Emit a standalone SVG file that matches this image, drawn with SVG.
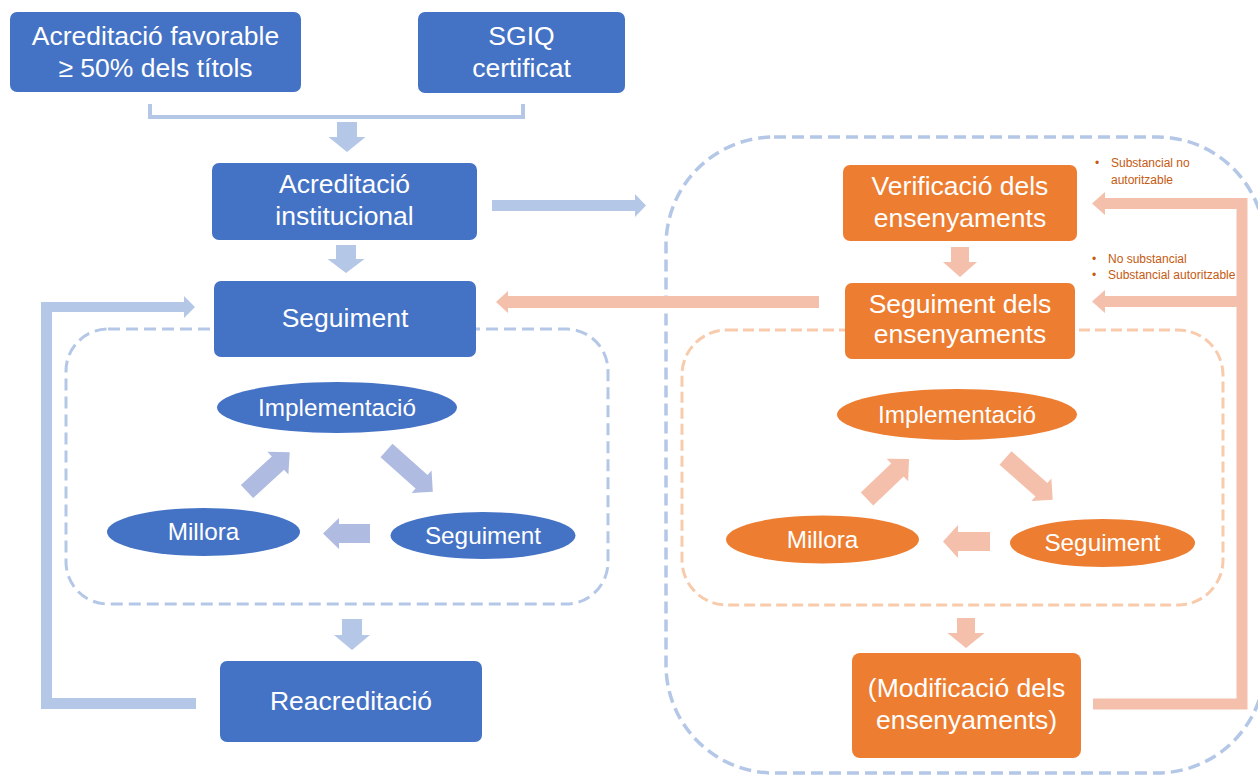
<svg xmlns="http://www.w3.org/2000/svg" width="1258" height="775" viewBox="0 0 1258 775">
<style>
.bbox{fill:#4472c4}
.obox{fill:#ed7d31}
.t{font-family:"Liberation Sans",Arial,sans-serif;fill:#ffffff;text-anchor:middle}
.tb{font-size:26.5px}
.te{font-size:24.3px}
.small{font-family:"Liberation Sans",Arial,sans-serif;font-size:12px;fill:#c55a11}
.lb{fill:#b4c7e7}
.cb{fill:#afbbe0}
.lo{fill:#f4bfab}
.dashb{fill:none;stroke:#b4c7e7;stroke-width:3.5;stroke-dasharray:12 6}
.dasho{fill:none;stroke:#f8cbad;stroke-width:3;stroke-dasharray:11 5}
</style>
<rect width="1258" height="775" fill="#ffffff"/>
<g id="containers">
<rect class="dashb" x="666" y="137" width="599" height="636" rx="108" ry="108"/>
<rect class="dashb" x="66" y="329" width="542" height="275" rx="42" ry="42" style="stroke-width:3"/>
<rect class="dasho" x="682" y="330" width="541" height="275" rx="45" ry="45"/>
</g>
<g id="connectors">
<polyline points="150,104 150,117 523,117 523,104" fill="none" stroke="#b4c7e7" stroke-width="4"/>
<polygon class="lb" points="337,122 357,122 357,137 365.5,137 347,152 328.5,137 337,137"/>
<polygon class="lb" points="336,245 356,245 356,259 364.5,259 346,273 327.5,259 336,259"/>
<polygon class="lb" points="342,619 362,619 362,635 370,635 352,650 334,635 342,635"/>
<polygon class="lb" points="492,200 635,200 635,194 646,205.5 635,217 635,211 492,211"/>
<polygon class="lb" points="196,698 52,698 52,312 184,312 184,318 195,307 184,296 184,302 41,302 41,709 196,709"/>
<polygon class="lo" points="819,296 508,296 508,291 496,302 508,313 508,308 819,308"/>
<polygon class="lo" points="951,247 969,247 969,262 977,262 960,277 943,262 951,262"/>
<polygon class="lo" points="957,618 975,618 975,633 984.5,633 966,648 947.5,633 957,633"/>
<polygon class="lo" points="1093,698.5 1236.5,698.5 1236.5,307 1105,307 1105,313 1092,301.5 1105,290 1105,296 1236.5,296 1236.5,209 1105,209 1105,215 1092,203.5 1105,192 1105,198 1247.5,198 1247.5,709.5 1093,709.5"/>
<path class="cb" transform="translate(247,491.5) rotate(-42.6)" d="M0,-9 L42,-9 L42,-15.5 L58,0 L42,15.5 L42,9 L0,9 Z"/>
<path class="cb" transform="translate(386.5,450.5) rotate(41.7)" d="M0,-9 L47,-9 L47,-15 L62,0 L47,15 L47,9 L0,9 Z"/>
<polygon class="cb" points="370,524 339,524 339,518 323,533.5 339,549 339,543 370,543"/>
<path class="lo" transform="translate(867,499) rotate(-43.6)" d="M0,-9 L42,-9 L42,-15.5 L58,0 L42,15.5 L42,9 L0,9 Z"/>
<path class="lo" transform="translate(1005.5,458) rotate(41.5)" d="M0,-9 L48,-9 L48,-15 L63,0 L48,15 L48,9 L0,9 Z"/>
<polygon class="lo" points="990,532 958,532 958,525 943,541.5 958,558 958,551 990,551"/>
</g>
<g id="n-acred-fav">
<rect class="bbox" x="10" y="12" width="291" height="80" rx="7"/>
<text class="t tb" x="155.5" y="45">Acreditació favorable</text>
<text class="t tb" x="155.5" y="77">≥ 50% dels títols</text>
</g>
<g id="n-sgiq">
<rect class="bbox" x="418" y="12" width="207" height="81" rx="7"/>
<text class="t tb" x="521.5" y="45">SGIQ</text>
<text class="t tb" x="521.5" y="77">certificat</text>
</g>
<g id="n-acred-inst">
<rect class="bbox" x="212" y="163" width="265" height="77" rx="7"/>
<text class="t tb" x="344.5" y="193">Acreditació</text>
<text class="t tb" x="344.5" y="225">institucional</text>
</g>
<g id="n-seguiment">
<rect class="bbox" x="214" y="281" width="262" height="76" rx="7"/>
<text class="t tb" x="345" y="327">Seguiment</text>
</g>
<g id="n-impl-b">
<ellipse class="bbox" cx="337" cy="407.5" rx="120" ry="25.5"/>
<text class="t te" x="337" y="415.5">Implementació</text>
</g>
<g id="n-millora-b">
<ellipse class="bbox" cx="203.5" cy="532" rx="96.5" ry="24"/>
<text class="t te" x="203.5" y="540">Millora</text>
</g>
<g id="n-seg-b">
<ellipse class="bbox" cx="483" cy="535.5" rx="92.5" ry="23.5"/>
<text class="t te" x="483" y="543.5">Seguiment</text>
</g>
<g id="n-reacred">
<rect class="bbox" x="220" y="661" width="262" height="81" rx="7"/>
<text class="t tb" x="351" y="710">Reacreditació</text>
</g>
<g id="n-verif">
<rect class="obox" x="843" y="165" width="234" height="76" rx="7"/>
<text class="t tb" x="960" y="195">Verificació dels</text>
<text class="t tb" x="960" y="227">ensenyaments</text>
</g>
<g id="n-seg-ens">
<rect class="obox" x="845" y="283" width="230" height="76" rx="7"/>
<text class="t tb" x="960" y="313">Seguiment dels</text>
<text class="t tb" x="960" y="343">ensenyaments</text>
</g>
<g id="n-impl-o">
<ellipse class="obox" cx="957" cy="414.5" rx="120" ry="25.5"/>
<text class="t te" x="957" y="422.5">Implementació</text>
</g>
<g id="n-millora-o">
<ellipse class="obox" cx="822.5" cy="539.5" rx="96.5" ry="24"/>
<text class="t te" x="822.5" y="547.5">Millora</text>
</g>
<g id="n-seg-o">
<ellipse class="obox" cx="1102.5" cy="543" rx="92.5" ry="24"/>
<text class="t te" x="1102.5" y="551">Seguiment</text>
</g>
<g id="n-modif">
<rect class="obox" x="852" y="653" width="229" height="105" rx="8"/>
<text class="t tb" x="966.5" y="697">(Modificació dels</text>
<text class="t tb" x="966.5" y="729">ensenyaments)</text>
</g>
<g id="labels">
<text class="small" x="1095" y="167">•</text>
<text class="small" x="1111" y="167">Substancial  no</text>
<text class="small" x="1111" y="184">autoritzable</text>
<text class="small" x="1092" y="263">•</text>
<text class="small" x="1108" y="263">No substancial</text>
<text class="small" x="1092" y="279">•</text>
<text class="small" x="1108" y="279">Substancial autoritzable</text>
</g>
</svg>
